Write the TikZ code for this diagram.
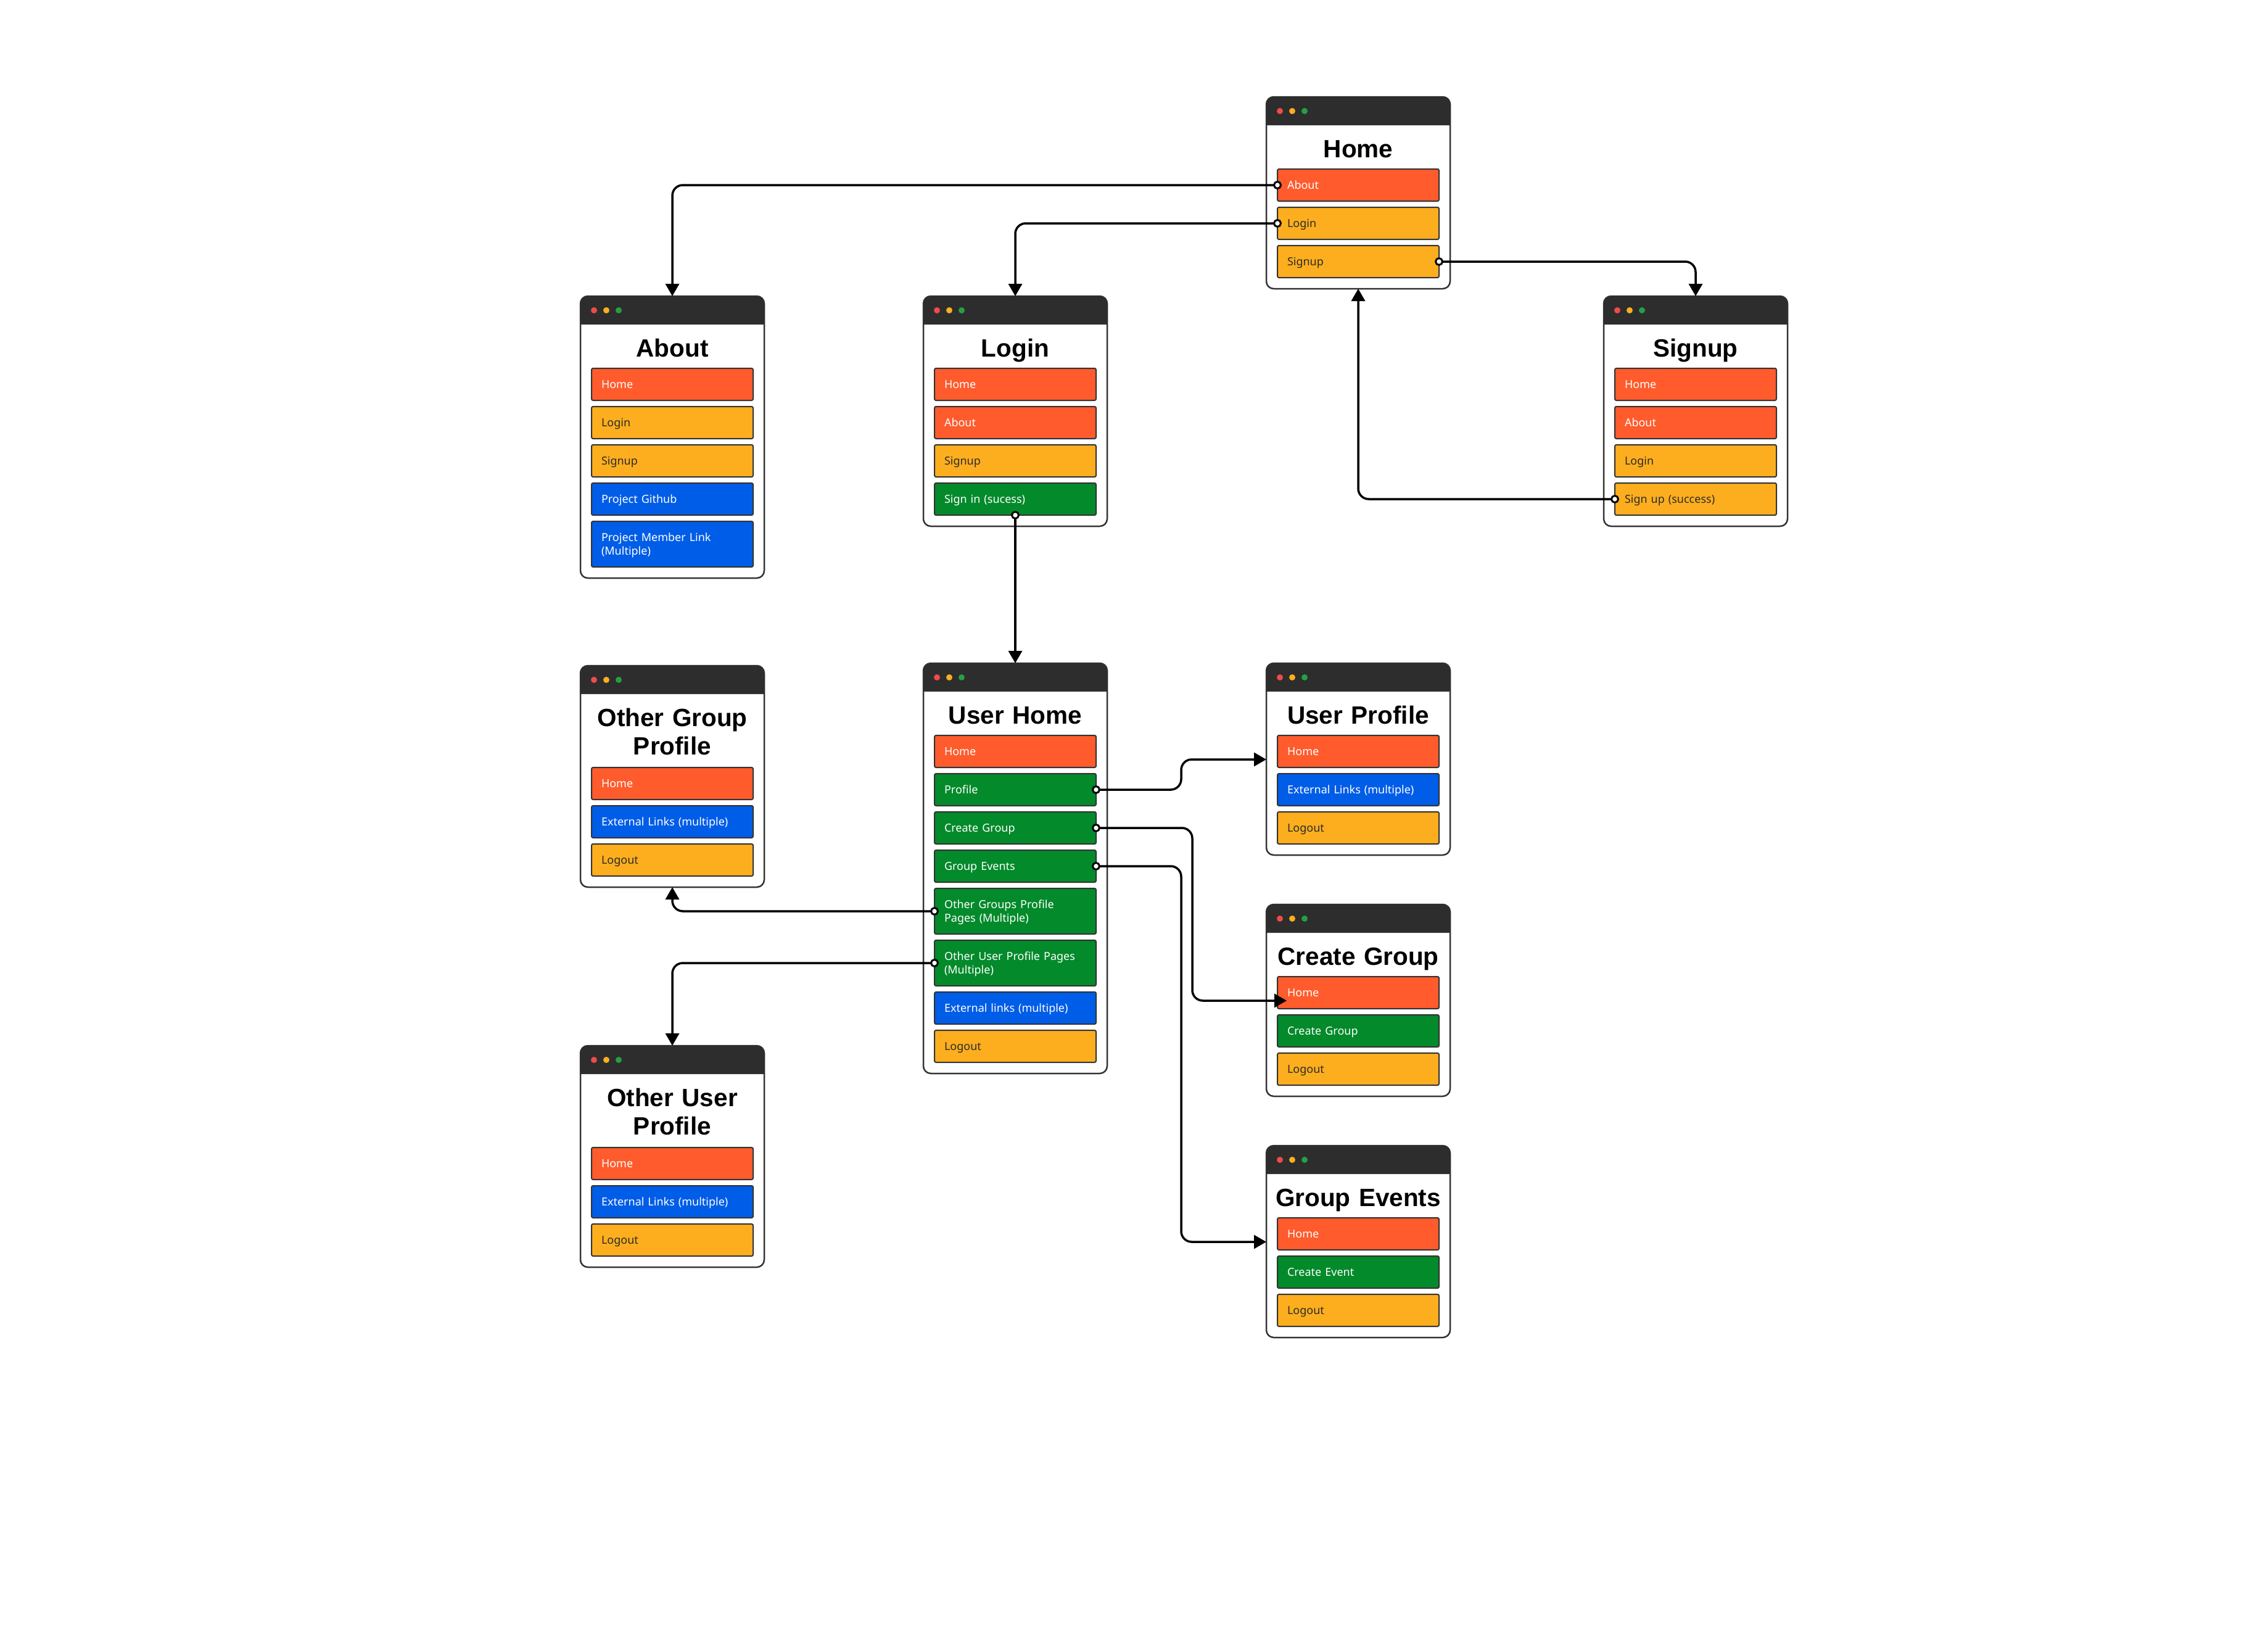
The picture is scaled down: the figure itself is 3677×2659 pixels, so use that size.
\documentclass[tikz,border=0pt]{standalone}
\usepackage{fontspec}
\setmainfont{Noto Sans}
\newfontfamily\titlefam{Liberation Sans}
\usetikzlibrary{arrows.meta}
\definecolor{cred}{HTML}{FF5B2C}
\definecolor{cyel}{HTML}{FDAE1E}
\definecolor{cgrn}{HTML}{038A2B}
\definecolor{cblu}{HTML}{005DE8}
\definecolor{barc}{HTML}{2D2D2D}
\definecolor{bordc}{HTML}{333333}
\definecolor{dotr}{HTML}{F04A4A}
\definecolor{doty}{HTML}{FDAE1E}
\definecolor{dotg}{HTML}{23A045}
\definecolor{darktxt}{HTML}{2B2B2B}
\tikzset{
  win/.style={draw=bordc, line width=2.5pt, fill=white, rounded corners=12pt,
    minimum width=298pt, inner sep=0pt, outer sep=0pt, anchor=north west},
  wtitle/.style={anchor=base, inner sep=0pt, outer sep=0pt, text width=298pt, align=center,
    text height=30pt, text depth=0pt,
    font=\titlefam\bfseries\fontsize{40.5pt}{46pt}\selectfont, text=black},
  btn/.style={draw=bordc, line width=2pt, rounded corners=2.5pt, anchor=north west,
    minimum width=262pt, minimum height=52pt, inner xsep=16pt, inner ysep=0pt, outer sep=0pt,
    text width=230pt, align=left, text height=12.9pt, text depth=0pt,
    font=\fontsize{18pt}{22pt}\selectfont},
  btwo/.style={minimum height=74pt, text depth=22pt},
  bred/.style={btn, fill=cred, text=white},
  byel/.style={btn, fill=cyel, text=darktxt},
  bgrn/.style={btn, fill=cgrn, text=white},
  bblu/.style={btn, fill=cblu, text=white},
  conn/.style={draw=black, line width=3.5pt, rounded corners=17pt,
    -{Triangle[length=20pt,width=22pt]}},
  port/.style={circle, draw=black, fill=white, line width=3pt, minimum size=11pt,
    inner sep=0pt, outer sep=0pt},
}
\newcommand\appwin[5]{%
  \node[win, minimum height=#4pt] (#1) at (#2,#3) {};
  \fill[barc] ([yshift=-46pt]#1.north west) [rounded corners=12pt] -- (#1.north west)
     -- (#1.north east) [sharp corners] -- ([yshift=-46pt]#1.north east) -- cycle;
  \fill[dotr] ([xshift=22pt,yshift=-23pt]#1.north west) circle[radius=5pt];
  \fill[doty] ([xshift=42pt,yshift=-23pt]#1.north west) circle[radius=5pt];
  \fill[dotg] ([xshift=62pt,yshift=-23pt]#1.north west) circle[radius=5pt];
  \node[wtitle] (#1-title) at ([yshift=-98pt]#1.north) {#5};
}
\newcommand\appbtn[5]{%
  \node[#2] (#1) at ([xshift=18pt,yshift=-#4pt]#3.north west) {#5};
}
\begin{document}
\begin{tikzpicture}[x=1pt,y=-1pt]
\useasboundingbox[fill=white] (0,0) rectangle (3677,2659);

% ---------- windows ----------
\appwin{home}{2053}{157}{311}{Home}
\appbtn{home-about}{bred}{home}{117}{About}
\appbtn{home-login}{byel}{home}{179}{Login}
\appbtn{home-signup}{byel}{home}{241}{Signup}

\appwin{about}{941}{480}{457}{About}
\appbtn{about-home}{bred}{about}{117}{Home}
\appbtn{about-login}{byel}{about}{179}{Login}
\appbtn{about-signup}{byel}{about}{241}{Signup}
\appbtn{about-github}{bblu}{about}{303}{Project Github}
\appbtn{about-members}{bblu,btwo}{about}{365}{Project Member Link\\(Multiple)}

\appwin{login}{1497}{480}{373}{Login}
\appbtn{login-home}{bred}{login}{117}{Home}
\appbtn{login-about}{bred}{login}{179}{About}
\appbtn{login-signup}{byel}{login}{241}{Signup}
\appbtn{login-signin}{bgrn}{login}{303}{Sign in (sucess)}

\appwin{signup}{2600}{480}{373}{Signup}
\appbtn{signup-home}{bred}{signup}{117}{Home}
\appbtn{signup-about}{bred}{signup}{179}{About}
\appbtn{signup-login}{byel}{signup}{241}{Login}
\appbtn{signup-success}{byel}{signup}{303}{Sign up (success)}

\appwin{ogp}{941}{1079}{359}{Other Group\\Profile}
\appbtn{ogp-home}{bred}{ogp}{165}{Home}
\appbtn{ogp-links}{bblu}{ogp}{227}{External Links (multiple)}
\appbtn{ogp-logout}{byel}{ogp}{289}{Logout}

\appwin{uh}{1497}{1075}{665}{User Home}
\appbtn{uh-home}{bred}{uh}{117}{Home}
\appbtn{uh-profile}{bgrn}{uh}{179}{Profile}
\appbtn{uh-cgroup}{bgrn}{uh}{241}{Create Group}
\appbtn{uh-gevents}{bgrn}{uh}{303}{Group Events}
\appbtn{uh-ogroups}{bgrn,btwo}{uh}{365}{Other Groups Profile\\Pages (Multiple)}
\appbtn{uh-ouser}{bgrn,btwo}{uh}{449}{Other User Profile Pages\\(Multiple)}
\appbtn{uh-links}{bblu}{uh}{533}{External links (multiple)}
\appbtn{uh-logout}{byel}{uh}{595}{Logout}

\appwin{up}{2053}{1075}{311}{User Profile}
\appbtn{up-home}{bred}{up}{117}{Home}
\appbtn{up-links}{bblu}{up}{179}{External Links (multiple)}
\appbtn{up-logout}{byel}{up}{241}{Logout}

\appwin{cg}{2053}{1466}{311}{Create Group}
\appbtn{cg-home}{bred}{cg}{117}{Home}
\appbtn{cg-create}{bgrn}{cg}{179}{Create Group}
\appbtn{cg-logout}{byel}{cg}{241}{Logout}

\appwin{ge}{2053}{1857}{311}{Group Events}
\appbtn{ge-home}{bred}{ge}{117}{Home}
\appbtn{ge-create}{bgrn}{ge}{179}{Create Event}
\appbtn{ge-logout}{byel}{ge}{241}{Logout}

\appwin{oup}{941}{1695}{359}{Other User\\Profile}
\appbtn{oup-home}{bred}{oup}{165}{Home}
\appbtn{oup-links}{bblu}{oup}{227}{External Links (multiple)}
\appbtn{oup-logout}{byel}{oup}{289}{Logout}

% ---------- helper coordinates ----------
\coordinate (jx) at (1915,0);
\coordinate (jx2) at (1933,0);
\coordinate (up-in) at ([yshift=-156pt]up.north west);
\coordinate (cg-in) at ([xshift=33pt,yshift=-156pt]cg.north west);
\coordinate (ge-in) at ([yshift=-156pt]ge.north west);

% ---------- connectors ----------
\draw[conn] (home-about.west) -| (about.north);
\draw[conn] (home-login.west) -| (login.north);
\draw[conn] (home-signup.east) -| (signup.north);
\draw[conn] (signup-success.west) -| (home.south);
\draw[conn] (login-signin.south) -- (uh.north);
\draw[conn] (uh-profile.east) -| (jx |- up-in) -- (up-in);
\draw[conn] (uh-cgroup.east) -| (jx2 |- cg-in) -- (cg-in);
\draw[conn] (uh-gevents.east) -| (jx |- ge-in) -- (ge-in);
\draw[conn] (uh-ogroups.west) -| (ogp.south);
\draw[conn] (uh-ouser.west) -| (oup.north);

% ---------- ports ----------
\node[port] (p1) at (home-about.west) {};
\node[port] (p2) at (home-login.west) {};
\node[port] (p3) at (home-signup.east) {};
\node[port] (p4) at (signup-success.west) {};
\node[port] (p5) at (login-signin.south) {};
\node[port] (p6) at (uh-profile.east) {};
\node[port] (p7) at (uh-cgroup.east) {};
\node[port] (p8) at (uh-gevents.east) {};
\node[port] (p9) at (uh-ogroups.west) {};
\node[port] (p10) at (uh-ouser.west) {};
\end{tikzpicture}
\end{document}
